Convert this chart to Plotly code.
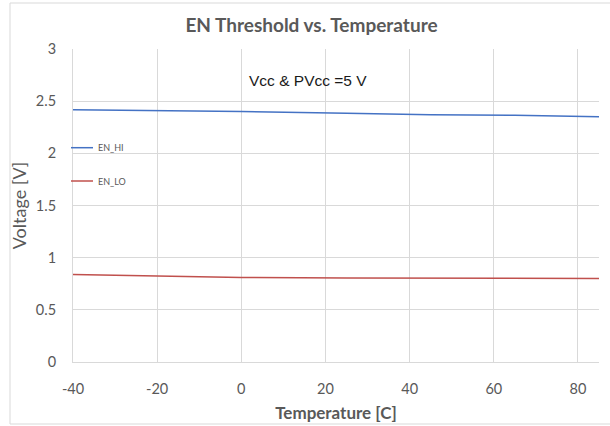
import plotly.graph_objects as go

temperature = [-40, -20, 0, 25, 45, 65, 85]
en_hi = [2.417, 2.41, 2.40, 2.385, 2.37, 2.365, 2.35]
en_lo = [0.838, 0.825, 0.81, 0.805, 0.805, 0.805, 0.80]

x_ticks = [-40, -20, 0, 20, 40, 60, 80]
x_tick_labels = ["-40", "-20", "0", "20", "40", "60", "80"]
y_ticks = [0, 0.5, 1, 1.5, 2, 2.5, 3]

BLUE = "#4472C4"
RED = "#C0504D"
GRAY = "#595959"
GRID = "#d9d9d9"
FONT = "Lato"

fig = go.Figure()
fig.add_trace(go.Scatter(x=temperature, y=en_hi, mode="lines", name="EN_HI",
                         line=dict(color=BLUE, width=1.5), showlegend=False))
fig.add_trace(go.Scatter(x=temperature, y=en_lo, mode="lines", name="EN_LO",
                         line=dict(color=RED, width=1.5), showlegend=False))

fig.update_layout(
    width=610, height=426,
    margin=dict(l=73, r=11, t=49, b=64, autoexpand=False),
    paper_bgcolor="white", plot_bgcolor="white",
    font=dict(family=FONT, color=GRAY),
    title=dict(text="<b>EN Threshold vs. Temperature</b>", x=311.5 / 610, xanchor="center",
               y=1 - 25.5 / 426, yanchor="middle",
               font=dict(size=19, color=GRAY, family=FONT)),
    xaxis=dict(range=[-40, 85], tickvals=x_ticks, ticktext=x_tick_labels,
               showgrid=True, gridcolor=GRID,
               showline=True, linecolor=GRID, linewidth=1, zeroline=False,
               ticks="", ticklabelstandoff=14, automargin=False,
               tickfont=dict(size=14.5, color=GRAY, family=FONT),
               title=dict(text="<b>Temperature [C]</b>", standoff=10,
                          font=dict(size=17, color=GRAY, family=FONT))),
    yaxis=dict(range=[0, 3], tickvals=y_ticks, showgrid=True, gridcolor=GRID,
               showline=True, linecolor=GRID, linewidth=1, zeroline=False,
               ticks="", ticklabelstandoff=13, automargin=False,
               tickfont=dict(size=14.5, color=GRAY, family=FONT),
               title=dict(text="Voltage [V]", standoff=4,
                          font=dict(size=18, color=GRAY, family=FONT))),
)

# chart border
fig.add_shape(type="rect", xref="paper", yref="paper",
              x0=(10 - 73) / 526, x1=(613 - 73) / 526,
              y0=(362 - 424) / 313, y1=(362 - 3) / 313,
              line=dict(color=GRID, width=1), fillcolor="rgba(0,0,0,0)", layer="below")

# white text box for the condition note
fig.add_shape(type="rect", xref="paper", yref="paper",
              x0=(228 - 73) / 526, x1=(412 - 73) / 526,
              y0=(362 - 103) / 313, y1=(362 - 60) / 313,
              line=dict(width=0), fillcolor="white", layer="between")
fig.add_annotation(text="Vcc & PVcc =5 V", xref="paper", yref="paper",
                   x=(307.5 - 73) / 526, y=(362 - 80.7) / 313,
                   xanchor="center", yanchor="middle", showarrow=False,
                   font=dict(family="Liberation Sans", size=15.5, color="#1a1a1a"))

# legend drawn inside the plot area
for name, color, ypix in [("EN_HI", BLUE, 147.7), ("EN_LO", RED, 181)]:
    yp = (362 - ypix) / 313
    fig.add_shape(type="line", xref="paper", yref="paper",
                  x0=(71 - 73) / 526, x1=(93 - 73) / 526, y0=yp, y1=yp,
                  line=dict(color=color, width=1.5), layer="above")
    fig.add_annotation(text=name, xref="paper", yref="paper",
                       x=(96 - 73) / 526, y=yp, xanchor="left", yanchor="middle",
                       showarrow=False, font=dict(family=FONT, size=9, color=GRAY))

fig.write_html("out.html", config={"displayModeBar": False},
               post_script="document.body.style.margin='0';document.body.style.overflow='hidden';")
